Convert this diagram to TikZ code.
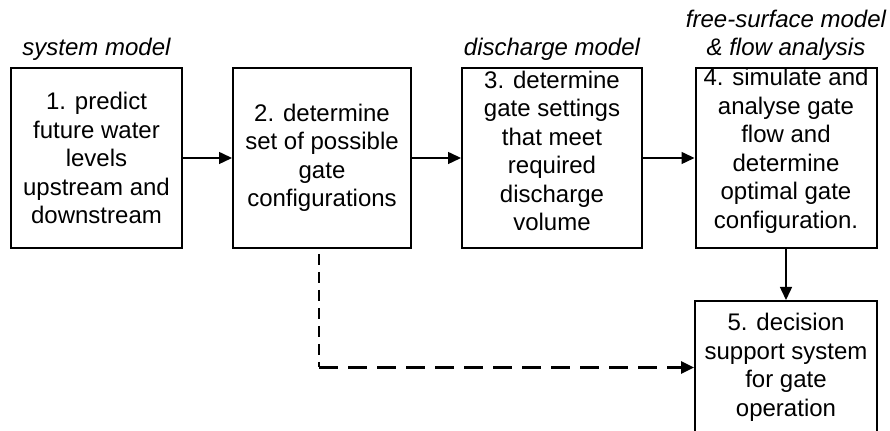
\documentclass[tikz,border=0pt]{standalone}
\usepackage{fontspec}
\setmainfont{Liberation Sans}
\usetikzlibrary{positioning,arrows.meta}

\begin{document}
\begin{tikzpicture}[x=0.5pt,y=-0.5pt,
    box/.style={draw, line width=1pt, inner sep=0pt, minimum height=90pt, align=center,
        font=\fontsize{12}{14.25}\selectfont},
    txt/.style={inner sep=0pt, align=center, font=\fontsize{12}{14.25}\selectfont},
    tag/.style={inner sep=0pt, align=center, font=\fontsize{12}{14.25}\selectfont\itshape},
    flow/.style={line width=0.75pt, -{Triangle[length=6.5pt,width=6pt]}}]
    \path[use as bounding box, clip] (0,0) rectangle (890,431);

    % the five steps
    \node[box, minimum width=85.5pt] (b1) at (96.5,158) {1. predict\\future water\\levels\\upstream and\\downstream};
    \node[box, minimum width=89pt] (b2) at (322,158) {2. determine\\set of possible\\gate\\configurations};
    \node[box, minimum width=90pt] (b3) at (552,158) {};
    \node[txt] (t3) at ([yshift=3.5pt]b3.center) {3. determine\\gate settings\\that meet\\required\\discharge\\volume};
    \node[box, minimum width=90.5pt] (b4) at (786,158) {};
    \node[txt] (t4) at ([yshift=3.5pt]b4.center) {4. simulate and\\analyse gate\\flow and\\determine\\optimal gate\\configuration.};
    \node[box, minimum width=91pt, minimum height=66.5pt] (b5) at (786,367.5) {5. decision\\support system\\for gate\\operation};

    % models above the steps
    \node[tag, above=3pt of b1] (m1) {system model};
    \node[tag, above=3pt of b3] (m3) {discharge model};
    \node[tag, above=3pt of b4] (m4) {free-surface model\\\& flow analysis};

    \draw[flow] (b1) -- (b2);
    \draw[flow] (b2) -- (b3);
    \draw[flow] (b3) -- (b4);
    \draw[flow] (b4) -- (b5);

    % bypass from step 2 to step 5
    \coordinate (bend) at ([xshift=-1.5pt]b2.south |- b5.west);
    \draw[line width=0.7pt, dash pattern=on 5.5pt off 3.5pt, shorten <=2.5pt] ([xshift=-1.5pt]b2.south) -- (bend);
    \draw[flow, line width=1.3pt, dash pattern=on 9.5pt off 5pt] (bend) -- (b5.west);
\end{tikzpicture}
\end{document}
